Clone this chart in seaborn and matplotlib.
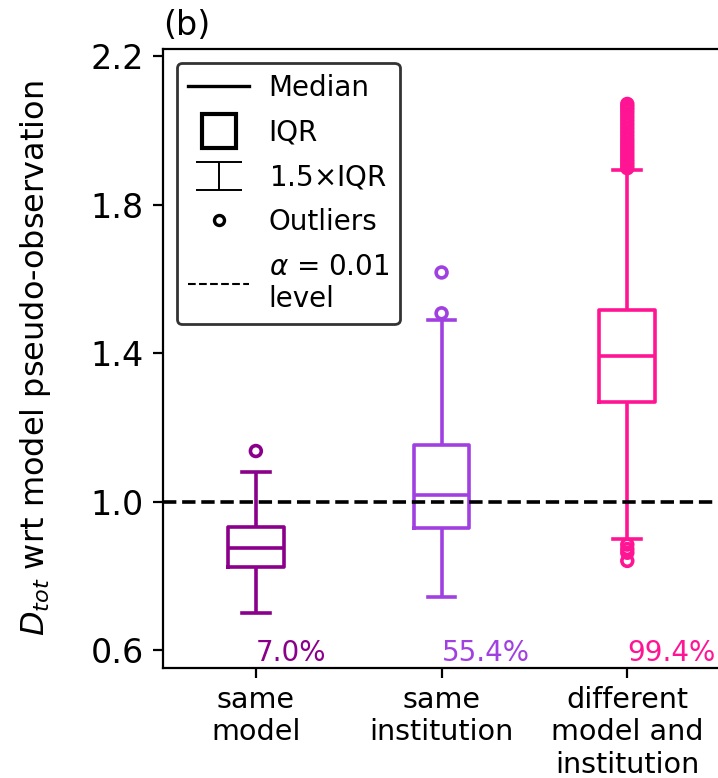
import numpy as np
import pandas as pd
import matplotlib
matplotlib.use("Agg")
import matplotlib.pyplot as plt
from matplotlib.lines import Line2D
from matplotlib.path import Path
import seaborn as sns

# Comparison groups (x-axis categories)
categories = ["same\nmodel", "same\ninstitution", "different\nmodel and\ninstitution"]

# Box summary per group: lower whisker end, Q1, median, Q3, upper whisker end
whisker_low = [0.700, 0.744, 0.898]
quartile_1 = [0.824, 0.929, 1.269]
medians = [0.876, 1.018, 1.392]
quartile_3 = [0.930, 1.152, 1.516]
whisker_high = [1.080, 1.489, 1.893]

# Points beyond 1.5xIQR
outliers_same_model = [1.136]
outliers_same_institution = [1.507, 1.617]
outliers_different = [0.884, 0.872, 0.862, 0.840,
                      1.898, 1.906, 1.914, 1.922, 1.931, 1.940, 1.949, 1.958,
                      1.967, 1.976, 1.986, 1.996, 2.006, 2.016, 2.026, 2.036,
                      2.046, 2.055, 2.063, 2.071]

# Share of pairs exceeding the significance level (%)
percent_exceeding = [7.0, 55.4, 99.4]
alpha_level = 1.0

group_colors = ["#8B008B", "#A040E0", "#FF1493"]

# Long-form tables for seaborn
box_rows = []
for cat, lo, q1, md, q3, hi in zip(categories, whisker_low, quartile_1, medians,
                                   quartile_3, whisker_high):
    for v in (lo, q1, md, q3, hi):
        box_rows.append({"group": cat, "value": v})
box_df = pd.DataFrame(box_rows)

outlier_rows = []
for cat, vals in zip(categories, [outliers_same_model, outliers_same_institution,
                                  outliers_different]):
    for v in vals:
        outlier_rows.append({"group": cat, "value": v})
outlier_df = pd.DataFrame(outlier_rows)

plt.rcParams["font.family"] = ["DejaVu Sans"]
plt.rcParams["font.size"] = 10

fig = plt.figure(figsize=(3.59, 3.89), dpi=200)
ax = fig.add_axes([0.227, 0.1414, 0.776, 0.7956])

sns.boxplot(data=box_df, x="group", y="value", hue="group", order=categories,
            hue_order=categories, palette=group_colors, fill=False, width=0.3,
            whis=(0, 100), showfliers=False, linewidth=1.3, legend=False, ax=ax)

n_before = len(ax.collections)
sns.stripplot(data=outlier_df, x="group", y="value", hue="group", order=categories,
              hue_order=categories, palette=group_colors, jitter=False, size=3.9,
              legend=False, ax=ax, zorder=3)
for coll in ax.collections[n_before:]:
    fc = coll.get_facecolor()
    coll.set_edgecolor(fc)
    coll.set_facecolor("none")
    coll.set_linewidth(1.3)

ax.axhline(alpha_level, color="k", ls="--", lw=1.3, zorder=4)

for i, (pct, col) in enumerate(zip(percent_exceeding, group_colors)):
    ax.text(i, 0.570, f"{pct:.1f}%", color=col, ha="left", va="baseline",
            fontsize=10, clip_on=False)

ax.set_ylim(0.5515, 2.219)
ax.set_xlim(-0.5, 2.5)
ax.set_yticks([0.6, 1.0, 1.4, 1.8, 2.2])
ax.set_yticklabels(["0.6", "1.0", "1.4", "1.8", "2.2"])
ax.tick_params(axis="y", labelsize=12)
ax.tick_params(axis="x", labelsize=10.3, pad=3.0)
ax.set_xlabel("")
ax.set_ylabel(r"$D_{tot}$ wrt model pseudo-observation", labelpad=13.5, fontsize=11.5)
ax.set_title("(b)", loc="left", pad=5, fontsize=12)

# Legend describing box elements
ibeam = Path([(-1, 0.6), (1, 0.6), (0, 0.6), (0, -0.6), (-1, -0.6), (1, -0.6)],
             [Path.MOVETO, Path.LINETO, Path.MOVETO, Path.LINETO, Path.MOVETO, Path.LINETO])
handles = [
    Line2D([], [], color="k", lw=1.2),
    Line2D([], [], ls="none", marker="s", markersize=12.5, mfc="none", mec="k", mew=1.5),
    Line2D([], [], ls="none", marker=ibeam, markersize=16.5, mfc="none", mec="k", mew=0.7),
    Line2D([], [], ls="none", marker="o", markersize=3.6, mfc="none", mec="k", mew=1.2),
    Line2D([], [], color="k", ls="--", lw=0.75),
]
labels = ["Median", "IQR", r"1.5$\times$IQR", "Outliers", "$\\alpha$ = 0.01\nlevel"]
leg = ax.legend(handles, labels, loc="upper left", handlelength=2.2, handletextpad=0.7,
                labelspacing=0.6, edgecolor="k", framealpha=0.8, fontsize=10)

fig.savefig("out.png", dpi=200)
